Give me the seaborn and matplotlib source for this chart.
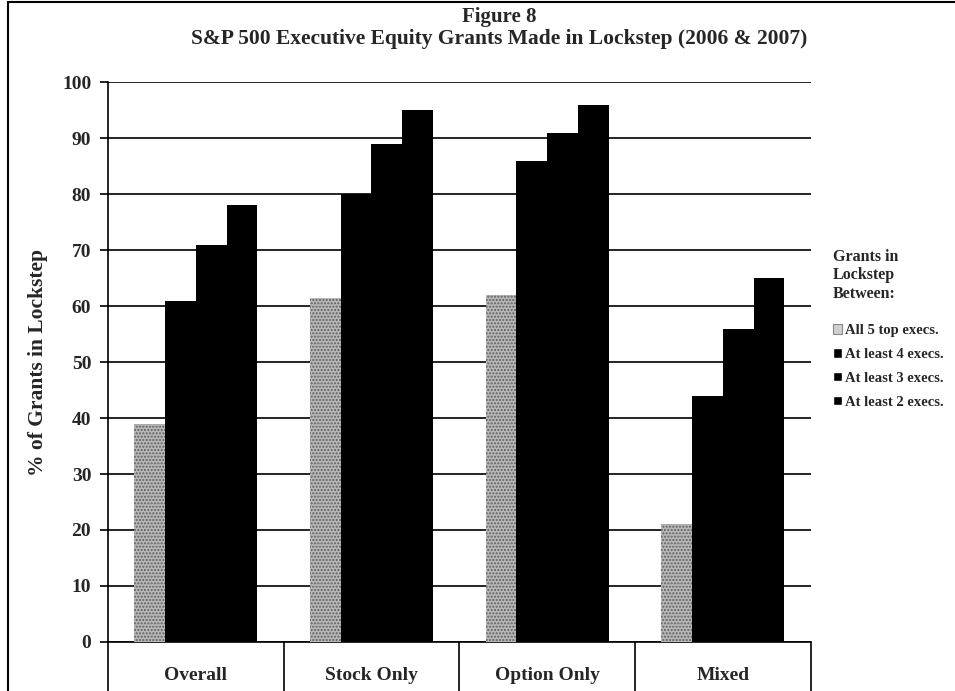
import pandas as pd
import seaborn as sns
from matplotlib import pyplot as plt
from matplotlib.patches import Patch
import numpy as np

sns.set_theme(style="white")
plt.rcParams['font.family'] = ['Liberation Serif', 'DejaVu Serif']

categories = ['Overall', 'Stock Only', 'Option Only', 'Mixed']
series = ['All 5 top execs.', 'At least 4 execs.', 'At least 3 execs.', 'At least 2 execs.']
all5 = [39, 61.5, 62, 21]
least4 = [61, 80, 86, 44]
least3 = [71, 89, 91, 56]
least2 = [78, 95, 96, 65]

rows = []
for s, vals in zip(series, [all5, least4, least3, least2]):
    for c, v in zip(categories, vals):
        rows.append({'Category': c, 'Series': s, 'Value': v})
df = pd.DataFrame(rows)

fig = plt.figure(figsize=(9.55, 6.91), dpi=100)
ax = fig.add_axes([0.113, 0.071, 0.736, 0.810])

colors = ['#b8b8b8', 'black', 'black', 'black']
sns.barplot(data=df, x='Category', y='Value', hue='Series', palette=colors,
            width=0.7, ax=ax, saturation=1, linewidth=0, zorder=3, legend=False)

# stippled look for the grey series
for p in ax.containers[0]:
    p.set_hatch('.....')
    p.set_edgecolor('#5e5e5e')
    p.set_linewidth(0)

ax.set_ylim(0, 100)
ax.set_xlim(-0.5, 3.5)
ax.set_yticks(np.arange(0, 101, 10))
ax.yaxis.grid(True, color='black', linewidth=1.2, zorder=0)
ax.set_axisbelow(True)
for side in ['top', 'right']:
    ax.spines[side].set_visible(False)
ax.spines['left'].set_color('black')
ax.spines['bottom'].set_color('black')
ax.spines['left'].set_linewidth(1.2)
ax.spines['bottom'].set_linewidth(1.2)

ax.tick_params(axis='y', which='major', left=True, length=6, width=1.2, color='black',
               labelsize=14, pad=6)
for t in ax.get_yticklabels():
    t.set_fontweight('bold')

ax.set_xticks(range(len(categories)))
ax.set_xticklabels(categories, fontsize=14, fontweight='bold')
ax.tick_params(axis='x', which='major', bottom=False, length=0, pad=18)
ax.set_xticks(np.arange(-0.5, 4, 1), minor=True)
ax.tick_params(axis='x', which='minor', bottom=True, length=46, width=1.2, color='black')

ax.set_xlabel('')
ax.set_ylabel('% of Grants in Lockstep', fontsize=15.5, fontweight='bold', labelpad=10)

fig.text(0.523, 0.975, 'Figure 8', ha='center', va='center', fontsize=15, fontweight='bold')
fig.text(0.523, 0.944, 'S&P 500 Executive Equity Grants Made in Lockstep (2006 & 2007)',
         ha='center', va='center', fontsize=15.5, fontweight='bold')

handles = [Patch(facecolor='#d0d0d0', edgecolor='#888888', linewidth=0.8)] + \
          [Patch(facecolor='black') for _ in range(3)]
leg = fig.legend(handles, series, loc='upper left', bbox_to_anchor=(0.866, 0.648),
                 frameon=False, fontsize=10.5, title='Grants in\nLockstep\nBetween:',
                 title_fontsize=11.5, handlelength=0.6, handleheight=0.6,
                 handletextpad=0.2, labelspacing=0.75, borderaxespad=0)
leg._legend_box.align = 'left'
leg._legend_box.sep = 16
leg.get_title().set_fontweight('bold')
leg.get_title().set_multialignment('left')
for t in leg.get_texts():
    t.set_fontweight('bold')

# frame line along the left and top edges
fig.add_artist(plt.Line2D([0.008, 0.008], [0.0, 0.997], transform=fig.transFigure,
                          color='black', linewidth=1.5))
fig.add_artist(plt.Line2D([0.008, 1.0], [0.997, 0.997], transform=fig.transFigure,
                          color='black', linewidth=1.5))

plt.savefig('out.png', dpi=100)
plt.close()
